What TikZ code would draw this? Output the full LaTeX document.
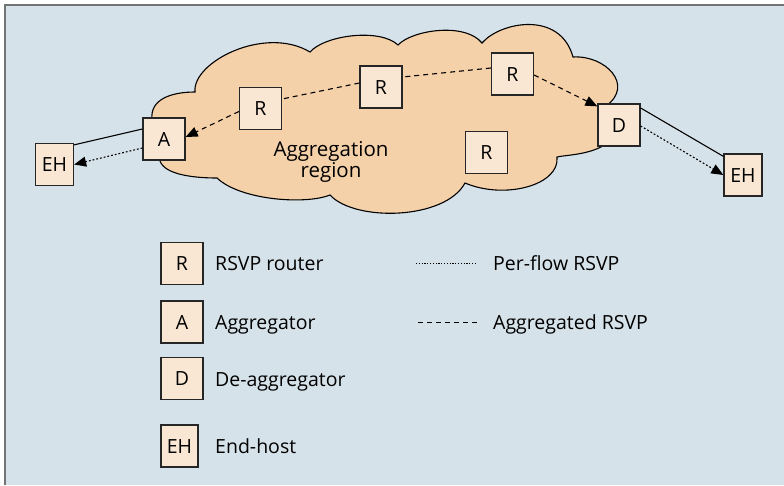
\documentclass[tikz,border=0pt]{standalone}
\usepackage{fontspec}
\setmainfont{Open Sans}
\usetikzlibrary{arrows.meta}
\definecolor{bgblue}{RGB}{214,226,233}
\definecolor{cloudfill}{RGB}{245,209,169}
\definecolor{boxfill}{RGB}{249,231,212}
\definecolor{framegray}{RGB}{115,115,115}
\begin{document}
\begin{tikzpicture}[x=1pt,y=-1pt,
  txt/.style={font=\fontsize{19.5}{22}\selectfont},
  box/.style={txt,draw=black!85,fill=boxfill,line width=1.3pt,minimum width=42pt,minimum height=42pt,inner sep=0pt,text height=14pt,text depth=0pt},
  ehbox/.style={box,minimum width=38pt},
  conn/.style={line width=1.1pt},
  tip/.style={-{Triangle[length=12pt,width=10pt]}},
  aggr/.style={conn,dash pattern=on 5pt off 4pt},
  perflow/.style={conn,dash pattern=on 1.8pt off 2pt},
  lbl/.style={txt,anchor=base west,inner sep=0pt}]
% background and frame
\useasboundingbox (0,0) rectangle (784,485);
\fill[white] (0,0) rectangle (784,485);
\fill[bgblue] (5,5) rectangle (784,485);
\draw[framegray,line width=2pt] (5,485) -- (5,5) -- (784,5);
% cloud
\draw[fill=cloudfill,line width=1.1pt] (195,92)
  .. controls (192,62) and (265,25) .. (310,52)
  .. controls (325,35) and (380,28) .. (398,45)
  .. controls (412,30) and (465,22) .. (482,43)
  .. controls (500,22) and (560,10) .. (573,57)
  .. controls (605,55) and (635,85) .. (606,106)
  -- (606,144)
  .. controls (590,155) and (565,155) .. (557,157)
  .. controls (560,185) and (505,200) .. (465,183)
  .. controls (445,220) and (355,222) .. (330,195)
  .. controls (305,205) and (240,200) .. (217,178)
  .. controls (195,178) and (165,175) .. (160,161)
  -- (152,119)
  .. controls (150,100) and (170,92) .. (195,92) -- cycle;
\node[font=\fontsize{20.5}{21}\selectfont,align=center,anchor=base,inner sep=0pt] (region) at (331,177) {Aggregation\\region};
% nodes
\node[ehbox] (EHl) at (54.5,164.5) {EH};
\node[box] (A) at (164,139) {A};
\node[box] (R1) at (260.5,108.5) {R};
\node[box] (R2) at (381,87) {R};
\node[box] (R3) at (512.5,74) {R};
\node[box] (R4) at (486.5,152.5) {R};
\node[box] (D) at (619,125) {D};
\node[ehbox] (EHr) at (743,175) {EH};
% connectors
\draw[conn] ([yshift=10pt]A.west) -- ([yshift=-2pt]EHl.north east);
\draw[perflow,tip] ([yshift=-9pt]A.west) -- (EHl.east);
\draw[conn] ([yshift=17pt]D.east) -- ([yshift=-3pt]EHr.north west);
\draw[perflow,tip] ([yshift=-1pt]D.east) -- (EHr.west);
\draw[aggr,tip] ([yshift=-3pt]R1.west) -- ([yshift=2pt]A.east);
\draw[aggr] ([yshift=4pt]R2.west) -- ([yshift=9.5pt]R1.east);
\draw[aggr] ([yshift=6pt]R3.west) -- ([yshift=10pt]R2.east);
\draw[aggr,tip] ([yshift=-1pt]R3.east) -- ([yshift=-3pt]D.north west);
% legend
\node[box] (LR) at (182,263.5) {R};
\node[box] (LA) at (182,322) {A};
\node[box] (LD) at (182,378.5) {D};
\node[box,minimum width=37pt] (LEH) at (179.5,446) {EH};
\node[lbl] (tR) at (215,270) {RSVP router};
\node[lbl] (tA) at (215,329) {Aggregator};
\node[lbl] (tD) at (215,386) {De-aggregator};
\node[lbl] (tEH) at (215,453) {End-host};
\coordinate (pf1) at (416,263);
\coordinate (pf2) at (477,263);
\coordinate (ag1) at (418,322);
\coordinate (ag2) at (477,322);
\draw[line width=0.8pt,dash pattern=on 1.2pt off 1.6pt] (pf1) -- (pf2);
\draw[line width=0.8pt,dash pattern=on 5pt off 4pt] (ag1) -- (ag2);
\node[lbl] (tpf) at (493,270) {Per-flow RSVP};
\node[lbl] (tag) at (493,329) {Aggregated RSVP};
\end{tikzpicture}
\end{document}
